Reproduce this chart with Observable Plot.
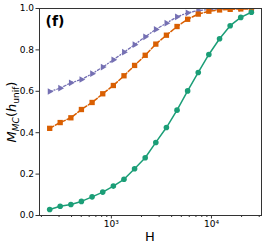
<!DOCTYPE html>
<html><head><meta charset="utf-8">
<script src="https://cdn.jsdelivr.net/npm/d3@7"></script>
<script src="https://cdn.jsdelivr.net/npm/@observablehq/plot@0.6"></script>
<style>body{margin:0;background:#fff} svg{display:block}</style>
</head><body><div id="chart"></div>
<script>
const H = [242, 308, 394, 502, 642, 820, 1047, 1337, 1706, 2178, 2780, 3548, 4529, 5781, 7379, 9419, 12050, 15380, 19630, 25060];
const seriesGreen = [0.029, 0.045, 0.053, 0.068, 0.090, 0.113, 0.142, 0.175, 0.226, 0.279, 0.353, 0.425, 0.509, 0.602, 0.691, 0.778, 0.854, 0.917, 0.957, 0.982];
const seriesOrange = [0.421, 0.449, 0.472, 0.512, 0.546, 0.588, 0.628, 0.675, 0.725, 0.774, 0.828, 0.871, 0.913, 0.948, 0.973, 0.987, 0.993, 0.996, 0.998, 0.998];
const seriesPurple = [0.599, 0.615, 0.641, 0.657, 0.685, 0.717, 0.752, 0.789, 0.825, 0.863, 0.899, 0.929, 0.960, 0.979, 0.990, 0.995, 0.998, 0.999, 0.999, 0.999];
const xMajorTicks = [1000, 10000];
const xMajorLabels = ["10³", "10⁴"];
const xMinorTicks = [200, 300, 400, 500, 600, 700, 800, 900, 2000, 3000, 4000, 5000, 6000, 7000, 8000, 9000, 20000, 30000];
const yTicks = [0, 0.2, 0.4, 0.6, 0.8, 1.0];
const panelLabel = "(f)";
const xLabel = "H";

const green = H.map((h, i) => ({H: h, v: seriesGreen[i]}));
const orange = H.map((h, i) => ({H: h, v: seriesOrange[i]}));
const purple = H.map((h, i) => ({H: h, v: seriesPurple[i]}));

const cG = "#1b9e77", cO = "#d95f02", cP = "#7570b3";

const plot = Plot.plot({
  width: 266, height: 249,
  marginLeft: 39, marginRight: 5, marginTop: 8, marginBottom: 34,
  style: {fontFamily: "DejaVu Sans", fontSize: "9px", color: "#000", background: "#fff", overflow: "visible"},
  x: {type: "log", domain: [191.4, 31623]},
  y: {domain: [0, 1]},
  marks: [
    Plot.axisX(xMinorTicks, {tickSize: 2, tickFormat: () => "", label: null, stroke: "#333"}),
    Plot.axisX(xMajorTicks, {tickSize: 3.5, tickPadding: 2, tickFormat: d => xMajorLabels[xMajorTicks.indexOf(d)], label: null, stroke: "#333", fill: "#000"}),
    Plot.axisY(yTicks, {tickSize: 3.5, tickPadding: 2, tickFormat: d3.format(".1f"), label: null, stroke: "#333", fill: "#000"}),
    Plot.line(purple, {x: "H", y: "v", stroke: cP, strokeWidth: 1.3, strokeDasharray: "2.5,2,1,2", clip: true}),
    Plot.dot(purple, {x: "H", y: "v", symbol: "triangle", rotate: 90, r: 2.5, fill: cP, clip: true}),
    Plot.line(orange, {x: "H", y: "v", stroke: cO, strokeWidth: 1.5, strokeDasharray: "4.5,2", clip: true}),
    Plot.dot(orange, {x: "H", y: "v", symbol: "square", r: 3, fill: cO, clip: true}),
    Plot.line(green, {x: "H", y: "v", stroke: cG, strokeWidth: 1.5, clip: true}),
    Plot.dot(green, {x: "H", y: "v", r: 2.8, fill: cG, clip: true}),
    Plot.frame({stroke: "#333", strokeWidth: 1}),
    Plot.text([panelLabel], {frameAnchor: "top-left", dx: 6, dy: 8, fontSize: 14, fontWeight: "bold", textAnchor: "start", lineAnchor: "top", fill: "#000"})
  ]
});

const svg = d3.select(plot);
svg.append("text")
  .attr("x", 150).attr("y", 241)
  .attr("text-anchor", "middle")
  .attr("font-family", "DejaVu Sans")
  .attr("font-size", 13)
  .attr("fill", "#000")
  .text(xLabel);

const yl = svg.append("text")
  .attr("transform", "translate(16,112) rotate(-90)")
  .attr("text-anchor", "middle")
  .attr("font-family", "DejaVu Sans")
  .attr("font-size", 13)
  .attr("fill", "#000");
yl.append("tspan").attr("font-style", "italic").text("M");
yl.append("tspan").attr("font-style", "italic").attr("font-size", 9).attr("dy", 2.5).text("MC");
yl.append("tspan").attr("dy", -2.5).text("(");
yl.append("tspan").attr("font-style", "italic").text("h");
yl.append("tspan").attr("font-size", 9).attr("dy", 2.5).text("unif");
yl.append("tspan").attr("dy", -2.5).text(")");

document.getElementById("chart").appendChild(plot);
</script>
</body></html>
